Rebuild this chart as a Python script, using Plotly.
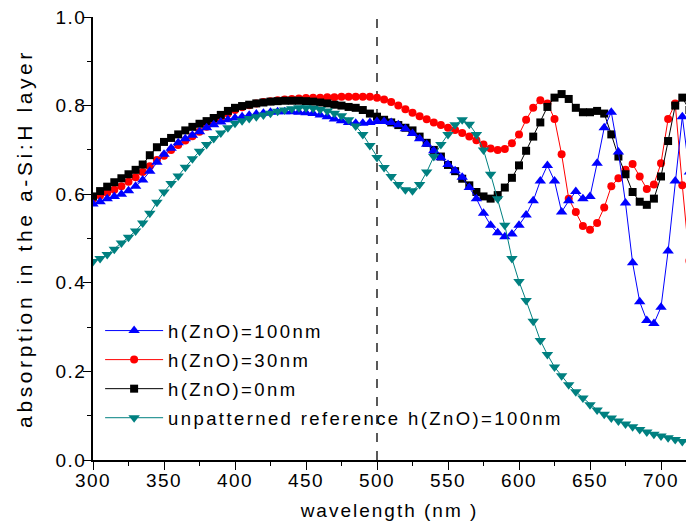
import plotly.graph_objects as go

wavelength = [
    300, 305, 310, 315, 320, 325, 330, 335, 340, 345,
    350, 355, 360, 365, 370, 375, 380, 385, 390, 395,
    400, 405, 410, 415, 420, 425, 430, 435, 440, 445,
    450, 455, 460, 465, 470, 475, 480, 485, 490, 495,
    500, 505, 510, 515, 520, 525, 530, 535, 540, 545,
    550, 555, 560, 565, 570, 575, 580, 585, 590, 595,
    600, 605, 610, 615, 620, 625, 630, 635, 640, 645,
    650, 655, 660, 665, 670, 675, 680, 685, 690, 695,
    700, 705, 710, 715, 720,
]

abs_h100 = [
    0.578, 0.583, 0.590, 0.595, 0.600, 0.608, 0.618, 0.632, 0.652, 0.672,
    0.690, 0.704, 0.716, 0.725, 0.733, 0.741, 0.750, 0.757, 0.763, 0.768,
    0.772, 0.775, 0.778, 0.781, 0.783, 0.785, 0.786, 0.786, 0.786, 0.785,
    0.784, 0.782, 0.779, 0.775, 0.770, 0.766, 0.762, 0.760, 0.760, 0.762,
    0.764, 0.764, 0.762, 0.757, 0.748, 0.737, 0.725, 0.713, 0.698, 0.682,
    0.667, 0.653, 0.638, 0.615, 0.590, 0.557, 0.530, 0.513, 0.504, 0.510,
    0.530, 0.553, 0.585, 0.630, 0.665, 0.630, 0.560, 0.585, 0.606, 0.590,
    0.595, 0.670, 0.750, 0.785, 0.695, 0.580, 0.445, 0.357, 0.315, 0.308,
    0.345, 0.472, 0.630, 0.775, 0.650,
]

abs_h30 = [
    0.590, 0.597, 0.603, 0.610, 0.618, 0.628, 0.638, 0.650, 0.663, 0.677,
    0.687, 0.700, 0.711, 0.721, 0.731, 0.741, 0.752, 0.762, 0.772, 0.782,
    0.790, 0.796, 0.801, 0.805, 0.808, 0.810, 0.812, 0.814, 0.815, 0.816,
    0.817, 0.818, 0.818, 0.819, 0.819, 0.820, 0.820, 0.820, 0.820, 0.820,
    0.818, 0.814, 0.808, 0.800, 0.792, 0.784, 0.776, 0.769, 0.762, 0.756,
    0.750, 0.745, 0.738, 0.730, 0.722, 0.712, 0.703, 0.700, 0.702, 0.715,
    0.735, 0.768, 0.795, 0.812, 0.805, 0.770, 0.690, 0.590, 0.560, 0.528,
    0.520, 0.535, 0.570, 0.618, 0.636, 0.655, 0.668, 0.640, 0.612, 0.622,
    0.670, 0.770, 0.805, 0.620, 0.450,
]

abs_h0 = [
    0.595, 0.607, 0.617, 0.627, 0.636, 0.645, 0.655, 0.667, 0.688, 0.706,
    0.718, 0.727, 0.735, 0.744, 0.752, 0.759, 0.765, 0.772, 0.779, 0.788,
    0.795, 0.799, 0.802, 0.805, 0.807, 0.809, 0.810, 0.811, 0.811, 0.811,
    0.810, 0.809, 0.807, 0.805, 0.802, 0.800, 0.797, 0.795, 0.790, 0.782,
    0.775, 0.768, 0.762, 0.756, 0.750, 0.744, 0.730, 0.716, 0.700, 0.685,
    0.666, 0.652, 0.635, 0.620, 0.605, 0.595, 0.590, 0.598, 0.615, 0.637,
    0.665, 0.698, 0.730, 0.762, 0.797, 0.818, 0.826, 0.815, 0.795, 0.785,
    0.785, 0.788, 0.782, 0.735, 0.685, 0.645, 0.605, 0.583, 0.576, 0.590,
    0.640, 0.720, 0.800, 0.818, 0.790,
]

abs_ref = [
    0.448, 0.455, 0.464, 0.476, 0.490, 0.503, 0.517, 0.535, 0.557, 0.582,
    0.605, 0.624, 0.641, 0.661, 0.680, 0.697, 0.712, 0.726, 0.738, 0.750,
    0.760, 0.766, 0.771, 0.775, 0.779, 0.783, 0.787, 0.790, 0.793, 0.795,
    0.795, 0.794, 0.791, 0.788, 0.783, 0.777, 0.768, 0.754, 0.735, 0.710,
    0.683, 0.660, 0.640, 0.622, 0.610, 0.608, 0.622, 0.650, 0.685, 0.712,
    0.735, 0.757, 0.768, 0.758, 0.735, 0.700, 0.645, 0.590, 0.530, 0.455,
    0.403, 0.360, 0.313, 0.270, 0.238, 0.210, 0.190, 0.170, 0.154, 0.140,
    0.125, 0.113, 0.103, 0.095, 0.088, 0.081, 0.075, 0.069, 0.063, 0.058,
    0.054, 0.050, 0.046, 0.042, 0.040,
]

series_names = [
    "h(ZnO)=100nm",
    "h(ZnO)=30nm",
    "h(ZnO)=0nm",
    "unpatterned reference h(ZnO)=100nm",
]

x_ticks = [300, 350, 400, 450, 500, 550, 600, 650, 700]
y_ticks = [0.0, 0.2, 0.4, 0.6, 0.8, 1.0]
marker_line = 500

FONT = "Liberation Sans, Arial, sans-serif"
FS = 19

fig = go.Figure()

# draw order: red, black, blue, teal (legend order via legendrank)
fig.add_trace(go.Scatter(
    x=wavelength, y=abs_h30, name=series_names[1], mode="lines+markers",
    line=dict(color="#ff0000", width=1),
    marker=dict(symbol="circle", size=8, color="#ff0000"),
    legendrank=2, legendgroup="b",
))
fig.add_trace(go.Scatter(
    x=wavelength, y=abs_h0, name=series_names[2], mode="lines+markers",
    line=dict(color="#000000", width=1),
    marker=dict(symbol="square", size=8, color="#000000"),
    legendrank=3, legendgroup="c",
))
fig.add_trace(go.Scatter(
    x=wavelength, y=abs_h100, name=series_names[0], mode="lines+markers",
    line=dict(color="#0000ff", width=1),
    marker=dict(symbol="triangle-up", size=10, color="#0000ff"),
    legendrank=1, legendgroup="a",
))
fig.add_trace(go.Scatter(
    x=wavelength, y=abs_ref, name=series_names[3], mode="lines+markers",
    line=dict(color="#008080", width=1),
    marker=dict(symbol="triangle-down", size=10, color="#008080"),
    legendrank=4, legendgroup="d",
))

fig.add_shape(
    type="line", xref="x", yref="paper",
    x0=marker_line, x1=marker_line, y0=0, y1=1,
    line=dict(color="#000000", width=1.3, dash="dash"),
    layer="below",
)

fig.update_layout(
    width=686, height=524,
    margin=dict(l=93, r=0, t=17, b=64, autoexpand=False),
    paper_bgcolor="white", plot_bgcolor="white",
    font=dict(family=FONT, size=FS, color="#000000"),
    showlegend=True,
    legend=dict(
        x=0.012, y=0.334, xanchor="left", yanchor="top",
        bgcolor="rgba(0,0,0,0)", itemwidth=58,
        tracegroupgap=2,
        font=dict(family=FONT, size=18.5, color="#000000"),
    ),
    xaxis=dict(
        range=[300, 717.6], tickvals=x_ticks, automargin=False,
        ticks="outside", ticklen=8, tickwidth=1.3, tickcolor="#000000",
        ticklabelstandoff=-6,
        minor=dict(ticks="outside", ticklen=4, tickwidth=1.3, dtick=25, tickcolor="#000000"),
        showline=True, linecolor="#000000", linewidth=1.5,
        showgrid=False, zeroline=False,
        tickfont=dict(family=FONT, size=FS),
        title=dict(text="wavelength (nm )", font=dict(family=FONT, size=FS), standoff=14),
    ),
    yaxis=dict(
        range=[0, 1.0], tickvals=y_ticks, tickformat=".1f", automargin=False,
        ticks="outside", ticklen=8, tickwidth=1.3, tickcolor="#000000",
        ticklabelstandoff=-7,
        minor=dict(ticks="outside", ticklen=4, tickwidth=1.3, dtick=0.1, tickcolor="#000000"),
        showline=True, linecolor="#000000", linewidth=1.5,
        showgrid=False, zeroline=False,
        tickfont=dict(family=FONT, size=FS),
        title=dict(text="absorption in the a-Si:H layer", font=dict(family=FONT, size=21), standoff=22),
    ),
)

spacing_css = (
    "var s=document.createElement('style');"
    "s.textContent='body{margin:0 !important;}"
    ".ytitle{letter-spacing:3.6px;}"
    ".xtitle{letter-spacing:2px;}"
    ".xtick text,.ytick text{letter-spacing:1.5px;}"
    ".legendtext{letter-spacing:2.4px;}"
    ".legend *{clip-path:none !important;}';"
    "document.head.appendChild(s);"
)

fig.write_html("out.html", post_script=spacing_css, config={"displayModeBar": False})
